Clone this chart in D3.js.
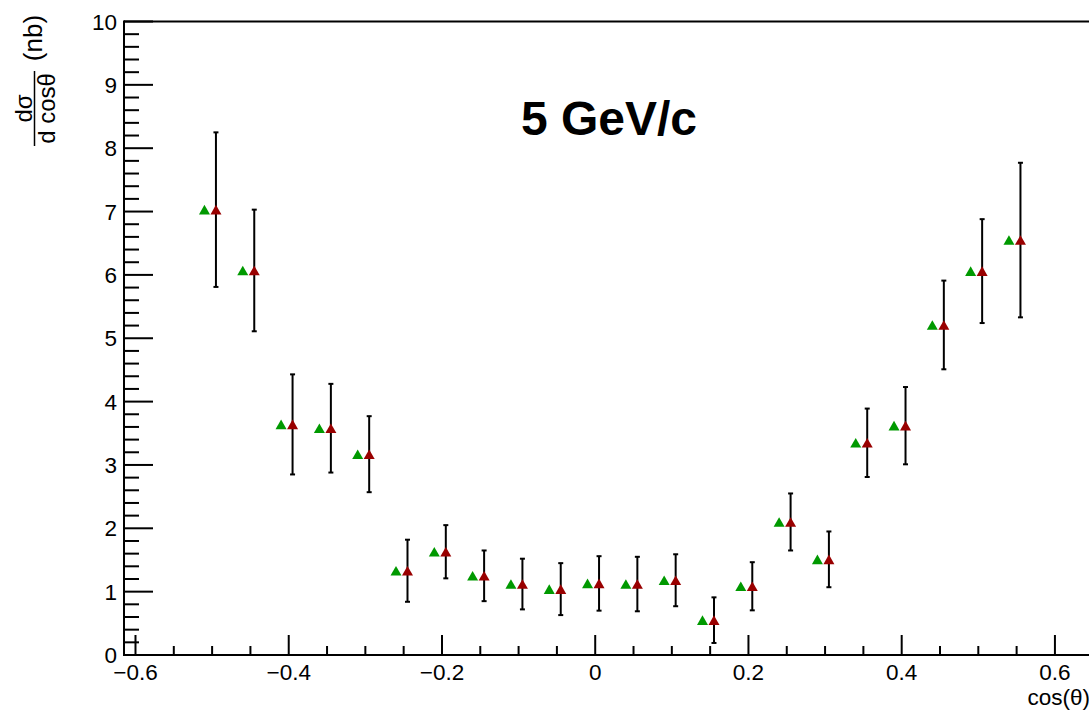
<!DOCTYPE html>
<html>
<head>
<meta charset="utf-8">
<script src="https://cdn.jsdelivr.net/npm/d3@7"></script>
<style>
  html, body { margin: 0; padding: 0; background: #fff; }
  svg { display: block; font-family: "Liberation Sans", Arial, sans-serif; }
</style>
</head>
<body>
<svg id="chart" width="1089" height="712"></svg>
<script>
// Angular distribution at 5 GeV/c: two series per cos(theta) bin
const binCenters = [-0.5, -0.45, -0.4, -0.35, -0.3, -0.25, -0.2, -0.15, -0.1, -0.05,
                    0, 0.05, 0.1, 0.15, 0.2, 0.25, 0.3, 0.35, 0.4, 0.45, 0.5, 0.55];
const greenShift = -0.01;   // green points drawn slightly left of the bin centre
const redShift = 0.005;     // red points (with errors) slightly right
const greenValues = [7.03, 6.07, 3.64, 3.58, 3.17, 1.33, 1.63, 1.25, 1.12, 1.04, 1.13,
                     1.12, 1.18, 0.55, 1.085, 2.10, 1.51, 3.35, 3.62, 5.21, 6.06, 6.55];
const redValues   = [7.03, 6.07, 3.64, 3.58, 3.17, 1.33, 1.63, 1.25, 1.12, 1.04, 1.13,
                     1.12, 1.18, 0.55, 1.085, 2.10, 1.51, 3.35, 3.62, 5.21, 6.06, 6.55];
const redErrors   = [1.22, 0.96, 0.79, 0.70, 0.60, 0.49, 0.42, 0.40, 0.40, 0.41, 0.43,
                     0.43, 0.41, 0.36, 0.38, 0.45, 0.44, 0.54, 0.61, 0.70, 0.82, 1.22];
const xTickLabels = [-0.6, -0.4, -0.2, 0, 0.2, 0.4, 0.6];
const yTickLabels = [0, 1, 2, 3, 4, 5, 6, 7, 8, 9, 10];
const titleText = "5 GeV/c";

const svg = d3.select("#chart");
const padLeft = 124, padBottom = 655, padTop = 21.5;
const x = d3.scaleLinear().domain([-0.615, 0.65]).range([padLeft, padLeft + 1.265 * 766.2]);
const y = d3.scaleLinear().domain([0, 10]).range([padBottom, padTop]);
const fmt = v => (v < 0 ? "\u2212" : "") + Math.abs(v).toString();
const labelSize = 22.5;

// frame: top border
svg.append("line")
  .attr("x1", padLeft).attr("x2", 1089).attr("y1", padTop).attr("y2", padTop)
  .attr("stroke", "#000").attr("stroke-width", 2);

// x axis with inward ticks
const xAxisG = svg.append("g");
xAxisG.append("line")
  .attr("x1", padLeft).attr("x2", 1089).attr("y1", padBottom).attr("y2", padBottom)
  .attr("stroke", "#000").attr("stroke-width", 2);
const xMinor = d3.range(-12, 14).map(i => i * 0.05).filter(v => x(v) > padLeft && x(v) < 1089);
xAxisG.selectAll("line.xt").data(xMinor).join("line")
  .attr("class", "xt")
  .attr("x1", d => x(d)).attr("x2", d => x(d))
  .attr("y1", padBottom)
  .attr("y2", d => Math.abs(Math.round(d * 100) % 20) === 0 ? padBottom - 20 : padBottom - 9)
  .attr("stroke", "#000").attr("stroke-width", 2);
xAxisG.selectAll("text").data(xTickLabels).join("text")
  .attr("x", d => x(d)).attr("y", padBottom + 25)
  .attr("text-anchor", "middle")
  .attr("font-size", labelSize)
  .text(d => fmt(d));

// y axis with inward ticks
const yAxisG = svg.append("g");
yAxisG.append("line")
  .attr("x1", padLeft).attr("x2", padLeft).attr("y1", padBottom + 1).attr("y2", padTop - 1)
  .attr("stroke", "#000").attr("stroke-width", 2);
const yMinor = d3.range(0, 51).map(i => i * 0.2);
yAxisG.selectAll("line.yt").data(yMinor).join("line")
  .attr("class", "yt")
  .attr("x1", padLeft)
  .attr("x2", (d, i) => i % 5 === 0 ? padLeft + 29 : padLeft + 15)
  .attr("y1", d => y(d)).attr("y2", d => y(d))
  .attr("stroke", "#000").attr("stroke-width", 2);
yAxisG.selectAll("text").data(yTickLabels).join("text")
  .attr("x", padLeft - 7).attr("y", d => y(d))
  .attr("dy", "0.36em")
  .attr("text-anchor", "end")
  .attr("font-size", labelSize)
  .text(d => d);

// axis titles
svg.append("text")
  .attr("x", 1090).attr("y", 705)
  .attr("text-anchor", "end")
  .attr("font-size", labelSize)
  .text("cos(\u03b8)");

const yTitle = svg.append("g");
// fraction d sigma / d cos theta, rotated
const fracCenter = 108.5;
yTitle.append("text")
  .attr("transform", `translate(31.5,${fracCenter}) rotate(-90)`)
  .attr("text-anchor", "middle")
  .attr("font-size", 24)
  .text("d\u03c3");
yTitle.append("line")
  .attr("x1", 34.5).attr("x2", 34.5).attr("y1", 71).attr("y2", 146)
  .attr("stroke", "#000").attr("stroke-width", 1.5);
yTitle.append("text")
  .attr("transform", `translate(54.5,${fracCenter}) rotate(-90)`)
  .attr("text-anchor", "middle")
  .attr("font-size", 24)
  .text("d cos\u03b8");
yTitle.append("text")
  .attr("transform", `translate(42,38) rotate(-90)`)
  .attr("text-anchor", "middle")
  .attr("font-size", 26)
  .text("(nb)");

// plot title
svg.append("text")
  .attr("x", 609).attr("y", 135)
  .attr("text-anchor", "middle")
  .attr("font-size", 48)
  .attr("font-weight", "bold")
  .text(titleText);

// data
const triangle = (cx, cy) => {
  const hw = 5.5, hh = 4.8;
  return `M${cx - hw},${cy + hh}L${cx + hw},${cy + hh}L${cx},${cy - hh}Z`;
};

const redData = binCenters.map((c, i) => ({ x: c + redShift, v: redValues[i], e: redErrors[i] }));
const greenData = binCenters.map((c, i) => ({ x: c + greenShift, v: greenValues[i] }));

const errG = svg.append("g").attr("stroke", "#000").attr("stroke-width", 2);
errG.selectAll("line.bar").data(redData).join("line")
  .attr("class", "bar")
  .attr("x1", d => x(d.x)).attr("x2", d => x(d.x))
  .attr("y1", d => y(d.v - d.e)).attr("y2", d => y(d.v + d.e));
errG.selectAll("line.capT").data(redData).join("line")
  .attr("class", "capT")
  .attr("x1", d => x(d.x) - 2.5).attr("x2", d => x(d.x) + 2.5)
  .attr("y1", d => y(d.v + d.e)).attr("y2", d => y(d.v + d.e));
errG.selectAll("line.capB").data(redData).join("line")
  .attr("class", "capB")
  .attr("x1", d => x(d.x) - 2.5).attr("x2", d => x(d.x) + 2.5)
  .attr("y1", d => y(d.v - d.e)).attr("y2", d => y(d.v - d.e));

svg.append("g").selectAll("path").data(greenData).join("path")
  .attr("d", d => triangle(x(d.x), y(d.v)))
  .attr("fill", "#009900");
svg.append("g").selectAll("path").data(redData).join("path")
  .attr("d", d => triangle(x(d.x), y(d.v)))
  .attr("fill", "#990000");
</script>
</body>
</html>
